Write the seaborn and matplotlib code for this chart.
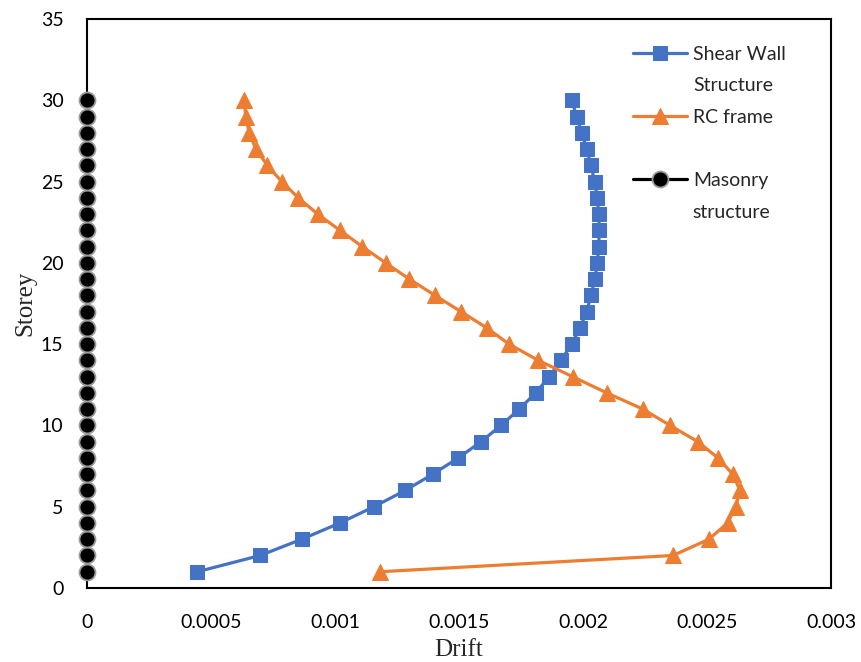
import matplotlib
matplotlib.use('Agg')
import matplotlib.pyplot as plt
from matplotlib.lines import Line2D
import seaborn as sns
import pandas as pd

# Данные: этажи и дрейф для трёх типов конструкций
storeys = list(range(1, 31))

shear_wall = [0.000445, 0.000698, 0.000866, 0.001020, 0.001157, 0.001283,
              0.001394, 0.001497, 0.001589, 0.001669, 0.001743, 0.001809,
              0.001864, 0.001911, 0.001954, 0.001988, 0.002015, 0.002032,
              0.002048, 0.002058, 0.002063, 0.002066, 0.002063, 0.002058,
              0.002047, 0.002032, 0.002015, 0.001995, 0.001975, 0.001954]

rc_frame = [0.001181, 0.002363, 0.002508, 0.002583, 0.002616, 0.002633,
            0.002604, 0.002544, 0.002463, 0.002351, 0.002242, 0.002096,
            0.001958, 0.001820, 0.001702, 0.001612, 0.001508, 0.001403,
            0.001300, 0.001204, 0.001110, 0.001020, 0.000930, 0.000852,
            0.000785, 0.000727, 0.000681, 0.000654, 0.000640, 0.000634]

masonry = [0, 0, 0, 0, 0, 0, 0, 0, 0, 0,
           0, 0, 0, 0, 0, 0, 0, 0, 0, 0,
           0, 0, 0, 0, 0, 0, 0, 0, 0, 0]

series_names = ['Shear Wall', 'RC frame', 'Masonry']
legend_rows = ['Shear Wall', 'Structure', 'RC frame', '', 'Masonry', 'structure']

x_ticks = [0, 0.0005, 0.001, 0.0015, 0.002, 0.0025, 0.003]
x_tick_labels = ['0', '0.0005', '0.001', '0.0015', '0.002', '0.0025', '0.003']
y_ticks = [0, 5, 10, 15, 20, 25, 30, 35]

sns.set_style('white')
plt.rcParams['font.family'] = ['Lato', 'DejaVu Sans']

fig = plt.figure(figsize=(8.62, 6.62), dpi=100)
W, H = 862, 662
ax = fig.add_axes([87 / W, (H - 588) / H, (831 - 87) / W, (588 - 19) / H])

df_sw = pd.DataFrame({'Drift': shear_wall, 'Storey': storeys})
df_rc = pd.DataFrame({'Drift': rc_frame, 'Storey': storeys})
df_ms = pd.DataFrame({'Drift': masonry, 'Storey': storeys})

sns.lineplot(data=df_sw, x='Drift', y='Storey', orient='y', sort=False,
             estimator=None, color='#4472C4', marker='s', markersize=10,
             markeredgecolor='#4472C4', linewidth=2.3, ax=ax,
             label=series_names[0], clip_on=False, zorder=3)
sns.lineplot(data=df_rc, x='Drift', y='Storey', orient='y', sort=False,
             estimator=None, color='#ED7D31', marker='^', markersize=11,
             markeredgecolor='#ED7D31', linewidth=2.3, ax=ax,
             label=series_names[1], clip_on=False, zorder=3)
sns.lineplot(data=df_ms, x='Drift', y='Storey', orient='y', sort=False,
             estimator=None, color='black', marker='o', markersize=11.5,
             markeredgecolor='#9A9A9A', markeredgewidth=1.3, linewidth=2.3,
             ax=ax, label=series_names[2], clip_on=False, zorder=4)

ax.set_xlim(0, 0.003)
ax.set_ylim(0, 35)
ax.set_xticks(x_ticks)
ax.set_xticklabels(x_tick_labels)
ax.set_yticks(y_ticks)
ax.tick_params(axis='both', direction='inout', length=10, width=1.5,
               color='black', labelsize=14, labelcolor='black')
ax.tick_params(axis='x', pad=14)
ax.tick_params(axis='y', pad=12)

for sp in ax.spines.values():
    sp.set_color('black')
    sp.set_linewidth(1.5)

ax.set_xlabel('Drift', fontsize=18, family='Liberation Serif')
ax.set_ylabel('Storey', fontsize=18, family='Liberation Serif')
ax.xaxis.set_label_coords(0.5, -0.089)
ax.yaxis.set_label_coords(-0.068, 0.5)

# Легенда: строки-продолжения без маркеров
handles, labels = ax.get_legend_handles_labels()
blank = Line2D([], [], linestyle='none')
leg_handles = [handles[0], blank, handles[1], blank, handles[2], blank]
ax.legend(leg_handles, legend_rows, loc='upper left',
          bbox_to_anchor=((633 - 87) / 744, 0.953), frameon=False,
          fontsize=14, handlelength=2.8, handletextpad=0.28,
          labelspacing=0.75, borderpad=0, borderaxespad=0)

fig.savefig('out.png', dpi=100)
